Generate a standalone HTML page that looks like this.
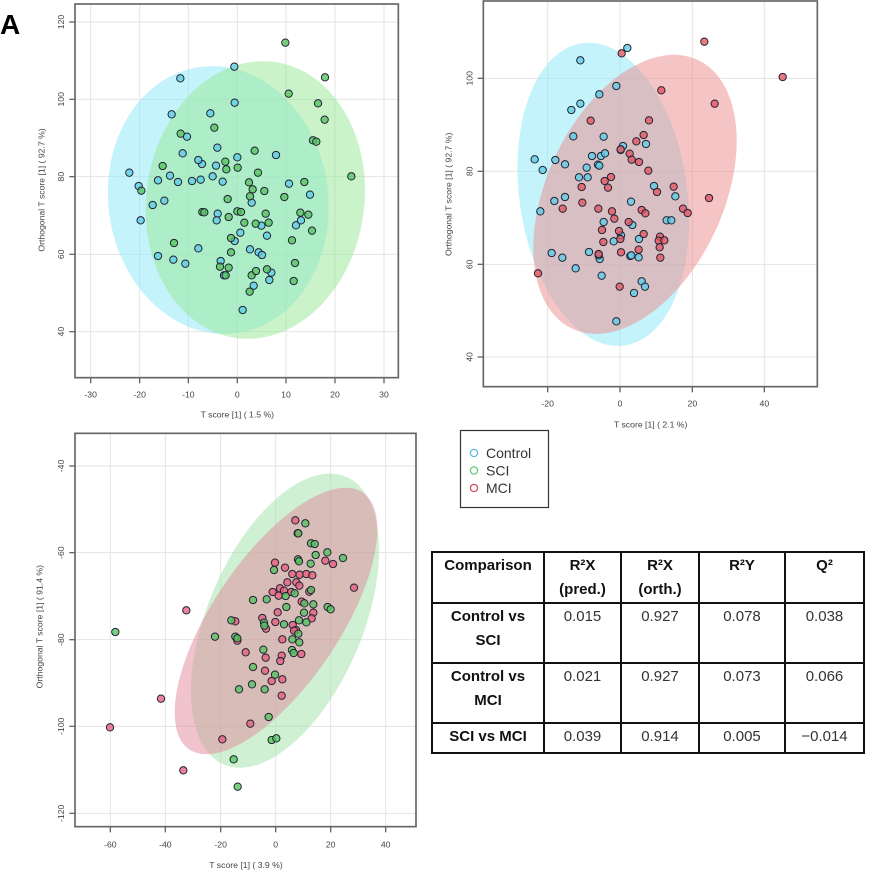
<!DOCTYPE html>
<html><head><meta charset="utf-8"><style>
html,body{margin:0;padding:0;background:#fff;width:875px;height:874px;overflow:hidden}
svg{position:absolute;left:0;top:0}
.t{font-family:"Liberation Sans",sans-serif;fill:#444;font-size:26px}
.pb circle{fill:rgba(95,205,230,0.8);stroke:#223;stroke-width:3}
.pg circle{fill:rgba(85,195,95,0.78);stroke:#223;stroke-width:3}
.pr circle{fill:rgba(225,85,95,0.78);stroke:#223;stroke-width:3}
.pm circle{fill:rgba(228,95,125,0.78);stroke:#223;stroke-width:3}
table{position:absolute;left:431px;top:551px;width:434px;border-collapse:collapse;table-layout:fixed;font-family:"Liberation Sans",sans-serif;font-size:15px;color:#333}
td{border:2px solid #111;text-align:center;vertical-align:top;padding:1px 2px 0 2px;line-height:24px;box-sizing:border-box}
.b{font-weight:bold;color:#111}
</style></head><body>
<svg width="875" height="874" viewBox="0 0 875 874">
<text x="0" y="34" font-family="Liberation Sans" font-weight="bold" font-size="28" fill="#000">A</text>

<!-- Plot 1 -->
<g transform="scale(0.33333)">
<g stroke="#e4e4e4" stroke-width="3">
<line x1="272" y1="12" x2="272" y2="1133"/><line x1="419" y1="12" x2="419" y2="1133"/><line x1="565" y1="12" x2="565" y2="1133"/><line x1="712" y1="12" x2="712" y2="1133"/><line x1="858" y1="12" x2="858" y2="1133"/><line x1="1005" y1="12" x2="1005" y2="1133"/><line x1="1152" y1="12" x2="1152" y2="1133"/>
<line x1="225" y1="66" x2="1195" y2="66"/><line x1="225" y1="298" x2="1195" y2="298"/><line x1="225" y1="530" x2="1195" y2="530"/><line x1="225" y1="763" x2="1195" y2="763"/><line x1="225" y1="995" x2="1195" y2="995"/>
</g>
<ellipse cx="655" cy="600" rx="330" ry="403" transform="rotate(-8 655 600)" fill="rgb(140,232,247)" fill-opacity="0.5"/>
<ellipse cx="766" cy="600" rx="327" ry="418" transform="rotate(8 766 600)" fill="rgb(150,232,150)" fill-opacity="0.5"/>
<g class="pb">
<circle cx="703" cy="200" r="11"/><circle cx="541" cy="235" r="11"/><circle cx="704" cy="308" r="11"/><circle cx="515" cy="343" r="11"/><circle cx="631" cy="340" r="11"/><circle cx="561" cy="410" r="11"/><circle cx="652" cy="443" r="11"/><circle cx="548" cy="460" r="11"/><circle cx="712" cy="472" r="11"/><circle cx="828" cy="465" r="11"/><circle cx="388" cy="518" r="11"/><circle cx="416" cy="558" r="11"/><circle cx="474" cy="541" r="11"/><circle cx="510" cy="527" r="11"/><circle cx="534" cy="546" r="11"/><circle cx="576" cy="543" r="11"/><circle cx="602" cy="539" r="11"/><circle cx="606" cy="492" r="11"/><circle cx="595" cy="480" r="11"/><circle cx="638" cy="529" r="11"/><circle cx="648" cy="497" r="11"/><circle cx="668" cy="545" r="11"/><circle cx="458" cy="615" r="11"/><circle cx="493" cy="602" r="11"/><circle cx="422" cy="661" r="11"/><circle cx="653" cy="641" r="11"/><circle cx="650" cy="661" r="11"/><circle cx="755" cy="608" r="11"/><circle cx="721" cy="698" r="11"/><circle cx="704" cy="723" r="11"/><circle cx="750" cy="748" r="11"/><circle cx="784" cy="677" r="11"/><circle cx="801" cy="707" r="11"/><circle cx="776" cy="757" r="11"/><circle cx="786" cy="765" r="11"/><circle cx="867" cy="551" r="11"/><circle cx="930" cy="584" r="11"/><circle cx="888" cy="676" r="11"/><circle cx="903" cy="661" r="11"/><circle cx="595" cy="745" r="11"/><circle cx="474" cy="768" r="11"/><circle cx="520" cy="779" r="11"/><circle cx="556" cy="791" r="11"/><circle cx="662" cy="783" r="11"/><circle cx="761" cy="857" r="11"/><circle cx="814" cy="818" r="11"/><circle cx="808" cy="840" r="11"/><circle cx="728" cy="930" r="11"/><circle cx="672" cy="826" r="11"/>
</g>
<g class="pg">
<circle cx="856" cy="128" r="11"/><circle cx="975" cy="232" r="11"/><circle cx="866" cy="281" r="11"/><circle cx="954" cy="310" r="11"/><circle cx="974" cy="359" r="11"/><circle cx="643" cy="383" r="11"/><circle cx="542" cy="401" r="11"/><circle cx="939" cy="421" r="11"/><circle cx="949" cy="425" r="11"/><circle cx="764" cy="452" r="11"/><circle cx="488" cy="498" r="11"/><circle cx="676" cy="485" r="11"/><circle cx="679" cy="508" r="11"/><circle cx="713" cy="503" r="11"/><circle cx="774" cy="518" r="11"/><circle cx="424" cy="572" r="11"/><circle cx="747" cy="547" r="11"/><circle cx="758" cy="568" r="11"/><circle cx="750" cy="589" r="11"/><circle cx="793" cy="573" r="11"/><circle cx="853" cy="591" r="11"/><circle cx="913" cy="546" r="11"/><circle cx="1054" cy="529" r="11"/><circle cx="683" cy="597" r="11"/><circle cx="607" cy="636" r="11"/><circle cx="613" cy="637" r="11"/><circle cx="686" cy="651" r="11"/><circle cx="712" cy="634" r="11"/><circle cx="723" cy="636" r="11"/><circle cx="733" cy="668" r="11"/><circle cx="767" cy="671" r="11"/><circle cx="797" cy="641" r="11"/><circle cx="806" cy="668" r="11"/><circle cx="901" cy="638" r="11"/><circle cx="925" cy="644" r="11"/><circle cx="936" cy="692" r="11"/><circle cx="693" cy="714" r="11"/><circle cx="693" cy="757" r="11"/><circle cx="876" cy="721" r="11"/><circle cx="522" cy="729" r="11"/><circle cx="660" cy="800" r="11"/><circle cx="686" cy="803" r="11"/><circle cx="677" cy="826" r="11"/><circle cx="755" cy="826" r="11"/><circle cx="768" cy="813" r="11"/><circle cx="801" cy="808" r="11"/><circle cx="885" cy="789" r="11"/><circle cx="881" cy="843" r="11"/><circle cx="749" cy="875" r="11"/>
</g>
<rect x="225" y="12" width="970" height="1121" fill="none" stroke="#666" stroke-width="5"/>
<g stroke="#666" stroke-width="4">
<line x1="272" y1="1133" x2="272" y2="1150"/><line x1="419" y1="1133" x2="419" y2="1150"/><line x1="565" y1="1133" x2="565" y2="1150"/><line x1="712" y1="1133" x2="712" y2="1150"/><line x1="858" y1="1133" x2="858" y2="1150"/><line x1="1005" y1="1133" x2="1005" y2="1150"/><line x1="1152" y1="1133" x2="1152" y2="1150"/>
<line x1="208" y1="66" x2="225" y2="66"/><line x1="208" y1="298" x2="225" y2="298"/><line x1="208" y1="530" x2="225" y2="530"/><line x1="208" y1="763" x2="225" y2="763"/><line x1="208" y1="995" x2="225" y2="995"/>
</g>
<g class="t" text-anchor="middle">
<text x="272" y="1193">-30</text><text x="419" y="1193">-20</text><text x="565" y="1193">-10</text><text x="712" y="1193">0</text><text x="858" y="1193">10</text><text x="1005" y="1193">20</text><text x="1152" y="1193">30</text>
<text x="712" y="1253">T score [1] ( 1.5 %)</text>
<text transform="translate(192 66) rotate(-90)">120</text><text transform="translate(192 298) rotate(-90)">100</text><text transform="translate(192 530) rotate(-90)">80</text><text transform="translate(192 763) rotate(-90)">60</text><text transform="translate(192 995) rotate(-90)">40</text>
<text transform="translate(133 570) rotate(-90)">Orthogonal T score [1] ( 92.7 %)</text>
</g>
</g>

<!-- Plot 2 -->
<g transform="translate(430 0) scale(0.33333)">
<g stroke="#e4e4e4" stroke-width="3">
<line x1="353" y1="3" x2="353" y2="1160"/><line x1="570" y1="3" x2="570" y2="1160"/><line x1="787" y1="3" x2="787" y2="1160"/><line x1="1003" y1="3" x2="1003" y2="1160"/>
<line x1="160" y1="235" x2="1162" y2="235"/><line x1="160" y1="514" x2="1162" y2="514"/><line x1="160" y1="793" x2="1162" y2="793"/><line x1="160" y1="1071" x2="1162" y2="1071"/>
</g>
<ellipse cx="520" cy="583" rx="252" ry="458" transform="rotate(-8 520 583)" fill="rgb(140,232,247)" fill-opacity="0.5"/>
<ellipse cx="615" cy="583" rx="265" ry="445" transform="rotate(25 615 583)" fill="rgb(235,140,140)" fill-opacity="0.5"/>
<g class="pb">
<circle cx="592" cy="144" r="11"/><circle cx="451" cy="181" r="11"/><circle cx="559" cy="258" r="11"/><circle cx="508" cy="283" r="11"/><circle cx="451" cy="311" r="11"/><circle cx="424" cy="330" r="11"/><circle cx="430" cy="409" r="11"/><circle cx="521" cy="410" r="11"/><circle cx="648" cy="432" r="11"/><circle cx="579" cy="438" r="11"/><circle cx="572" cy="450" r="11"/><circle cx="314" cy="478" r="11"/><circle cx="376" cy="480" r="11"/><circle cx="405" cy="493" r="11"/><circle cx="338" cy="510" r="11"/><circle cx="486" cy="468" r="11"/><circle cx="513" cy="468" r="11"/><circle cx="525" cy="460" r="11"/><circle cx="470" cy="503" r="11"/><circle cx="504" cy="494" r="11"/><circle cx="508" cy="497" r="11"/><circle cx="447" cy="532" r="11"/><circle cx="473" cy="532" r="11"/><circle cx="672" cy="558" r="11"/><circle cx="736" cy="589" r="11"/><circle cx="373" cy="603" r="11"/><circle cx="405" cy="591" r="11"/><circle cx="603" cy="605" r="11"/><circle cx="331" cy="634" r="11"/><circle cx="521" cy="666" r="11"/><circle cx="607" cy="675" r="11"/><circle cx="710" cy="661" r="11"/><circle cx="724" cy="661" r="11"/><circle cx="365" cy="759" r="11"/><circle cx="397" cy="773" r="11"/><circle cx="477" cy="756" r="11"/><circle cx="509" cy="777" r="11"/><circle cx="551" cy="724" r="11"/><circle cx="573" cy="706" r="11"/><circle cx="627" cy="717" r="11"/><circle cx="601" cy="768" r="11"/><circle cx="604" cy="766" r="11"/><circle cx="626" cy="772" r="11"/><circle cx="437" cy="805" r="11"/><circle cx="515" cy="827" r="11"/><circle cx="635" cy="844" r="11"/><circle cx="645" cy="860" r="11"/><circle cx="612" cy="879" r="11"/><circle cx="559" cy="964" r="11"/><circle cx="506" cy="766" r="11"/>
</g>
<g class="pr">
<circle cx="823" cy="125" r="11"/><circle cx="575" cy="160" r="11"/><circle cx="694" cy="271" r="11"/><circle cx="854" cy="311" r="11"/><circle cx="482" cy="362" r="11"/><circle cx="657" cy="361" r="11"/><circle cx="641" cy="405" r="11"/><circle cx="619" cy="424" r="11"/><circle cx="572" cy="448" r="11"/><circle cx="599" cy="461" r="11"/><circle cx="605" cy="479" r="11"/><circle cx="627" cy="486" r="11"/><circle cx="655" cy="512" r="11"/><circle cx="543" cy="531" r="11"/><circle cx="524" cy="543" r="11"/><circle cx="534" cy="563" r="11"/><circle cx="455" cy="561" r="11"/><circle cx="457" cy="608" r="11"/><circle cx="398" cy="626" r="11"/><circle cx="731" cy="560" r="11"/><circle cx="681" cy="576" r="11"/><circle cx="837" cy="594" r="11"/><circle cx="759" cy="626" r="11"/><circle cx="773" cy="639" r="11"/><circle cx="505" cy="626" r="11"/><circle cx="546" cy="634" r="11"/><circle cx="553" cy="656" r="11"/><circle cx="635" cy="630" r="11"/><circle cx="646" cy="640" r="11"/><circle cx="596" cy="666" r="11"/><circle cx="516" cy="690" r="11"/><circle cx="567" cy="693" r="11"/><circle cx="571" cy="717" r="11"/><circle cx="641" cy="702" r="11"/><circle cx="690" cy="710" r="11"/><circle cx="686" cy="722" r="11"/><circle cx="703" cy="721" r="11"/><circle cx="689" cy="742" r="11"/><circle cx="691" cy="773" r="11"/><circle cx="626" cy="749" r="11"/><circle cx="520" cy="726" r="11"/><circle cx="506" cy="762" r="11"/><circle cx="573" cy="757" r="11"/><circle cx="324" cy="820" r="11"/><circle cx="569" cy="860" r="11"/><circle cx="1058" cy="231" r="11"/>
</g>
<rect x="160" y="3" width="1002" height="1157" fill="none" stroke="#666" stroke-width="5"/>
<g stroke="#666" stroke-width="4">
<line x1="353" y1="1160" x2="353" y2="1177"/><line x1="570" y1="1160" x2="570" y2="1177"/><line x1="787" y1="1160" x2="787" y2="1177"/><line x1="1003" y1="1160" x2="1003" y2="1177"/>
<line x1="143" y1="235" x2="160" y2="235"/><line x1="143" y1="514" x2="160" y2="514"/><line x1="143" y1="793" x2="160" y2="793"/><line x1="143" y1="1071" x2="160" y2="1071"/>
</g>
<g class="t" text-anchor="middle">
<text x="353" y="1220">-20</text><text x="570" y="1220">0</text><text x="787" y="1220">20</text><text x="1003" y="1220">40</text>
<text x="662" y="1283">T score [1] ( 2.1 %)</text>
<text transform="translate(127 235) rotate(-90)">100</text><text transform="translate(127 514) rotate(-90)">80</text><text transform="translate(127 793) rotate(-90)">60</text><text transform="translate(127 1071) rotate(-90)">40</text>
<text transform="translate(64 583) rotate(-90)">Orthogonal T score [1] ( 92.7 %)</text>
</g>
</g>

<!-- Plot 3 -->
<g transform="translate(0 420) scale(0.33333)">
<g stroke="#e4e4e4" stroke-width="3">
<line x1="331" y1="40" x2="331" y2="1220"/><line x1="496" y1="40" x2="496" y2="1220"/><line x1="662" y1="40" x2="662" y2="1220"/><line x1="827" y1="40" x2="827" y2="1220"/><line x1="992" y1="40" x2="992" y2="1220"/><line x1="1157" y1="40" x2="1157" y2="1220"/>
<line x1="225" y1="138" x2="1248" y2="138"/><line x1="225" y1="398" x2="1248" y2="398"/><line x1="225" y1="659" x2="1248" y2="659"/><line x1="225" y1="919" x2="1248" y2="919"/><line x1="225" y1="1180" x2="1248" y2="1180"/>
</g>
<ellipse cx="855" cy="602" rx="233" ry="469" transform="rotate(23 855 602)" fill="rgb(160,225,165)" fill-opacity="0.5"/>
<ellipse cx="828" cy="603" rx="190" ry="465" transform="rotate(34 828 603)" fill="rgb(225,135,155)" fill-opacity="0.5"/>
<g class="pm">
<circle cx="886" cy="301" r="11"/><circle cx="893" cy="340" r="11"/><circle cx="825" cy="428" r="11"/><circle cx="855" cy="443" r="11"/><circle cx="877" cy="462" r="11"/><circle cx="899" cy="464" r="11"/><circle cx="919" cy="462" r="11"/><circle cx="937" cy="466" r="11"/><circle cx="862" cy="487" r="11"/><circle cx="889" cy="487" r="11"/><circle cx="898" cy="497" r="11"/><circle cx="840" cy="505" r="11"/><circle cx="818" cy="516" r="11"/><circle cx="852" cy="512" r="11"/><circle cx="874" cy="516" r="11"/><circle cx="928" cy="515" r="11"/><circle cx="836" cy="527" r="11"/><circle cx="905" cy="545" r="11"/><circle cx="976" cy="422" r="11"/><circle cx="999" cy="432" r="11"/><circle cx="1062" cy="503" r="11"/><circle cx="559" cy="571" r="11"/><circle cx="706" cy="604" r="11"/><circle cx="787" cy="594" r="11"/><circle cx="798" cy="626" r="11"/><circle cx="826" cy="606" r="11"/><circle cx="878" cy="615" r="11"/><circle cx="888" cy="630" r="11"/><circle cx="940" cy="578" r="11"/><circle cx="935" cy="595" r="11"/><circle cx="712" cy="662" r="11"/><circle cx="847" cy="658" r="11"/><circle cx="737" cy="697" r="11"/><circle cx="797" cy="713" r="11"/><circle cx="845" cy="707" r="11"/><circle cx="841" cy="723" r="11"/><circle cx="904" cy="702" r="11"/><circle cx="795" cy="752" r="11"/><circle cx="815" cy="783" r="11"/><circle cx="847" cy="778" r="11"/><circle cx="845" cy="827" r="11"/><circle cx="483" cy="836" r="11"/><circle cx="751" cy="911" r="11"/><circle cx="330" cy="922" r="11"/><circle cx="667" cy="958" r="11"/><circle cx="550" cy="1051" r="11"/><circle cx="833" cy="577" r="11"/><circle cx="882" cy="632" r="11"/>
</g>
<g class="pg">
<circle cx="916" cy="310" r="11"/><circle cx="895" cy="340" r="11"/><circle cx="933" cy="370" r="11"/><circle cx="944" cy="372" r="11"/><circle cx="947" cy="405" r="11"/><circle cx="982" cy="397" r="11"/><circle cx="1029" cy="414" r="11"/><circle cx="894" cy="418" r="11"/><circle cx="897" cy="424" r="11"/><circle cx="932" cy="431" r="11"/><circle cx="822" cy="450" r="11"/><circle cx="884" cy="520" r="11"/><circle cx="933" cy="510" r="11"/><circle cx="857" cy="528" r="11"/><circle cx="759" cy="540" r="11"/><circle cx="800" cy="538" r="11"/><circle cx="940" cy="553" r="11"/><circle cx="913" cy="550" r="11"/><circle cx="859" cy="561" r="11"/><circle cx="983" cy="561" r="11"/><circle cx="992" cy="568" r="11"/><circle cx="912" cy="578" r="11"/><circle cx="897" cy="601" r="11"/><circle cx="919" cy="607" r="11"/><circle cx="852" cy="613" r="11"/><circle cx="792" cy="608" r="11"/><circle cx="793" cy="617" r="11"/><circle cx="694" cy="601" r="11"/><circle cx="346" cy="636" r="11"/><circle cx="645" cy="650" r="11"/><circle cx="706" cy="650" r="11"/><circle cx="712" cy="655" r="11"/><circle cx="877" cy="658" r="11"/><circle cx="895" cy="641" r="11"/><circle cx="898" cy="667" r="11"/><circle cx="790" cy="689" r="11"/><circle cx="876" cy="690" r="11"/><circle cx="881" cy="699" r="11"/><circle cx="759" cy="741" r="11"/><circle cx="756" cy="793" r="11"/><circle cx="717" cy="808" r="11"/><circle cx="794" cy="808" r="11"/><circle cx="825" cy="764" r="11"/><circle cx="806" cy="891" r="11"/><circle cx="815" cy="960" r="11"/><circle cx="829" cy="955" r="11"/><circle cx="701" cy="1018" r="11"/><circle cx="713" cy="1100" r="11"/>
</g>
<rect x="225" y="40" width="1023" height="1180" fill="none" stroke="#666" stroke-width="5"/>
<g stroke="#666" stroke-width="4">
<line x1="331" y1="1220" x2="331" y2="1237"/><line x1="496" y1="1220" x2="496" y2="1237"/><line x1="662" y1="1220" x2="662" y2="1237"/><line x1="827" y1="1220" x2="827" y2="1237"/><line x1="992" y1="1220" x2="992" y2="1237"/><line x1="1157" y1="1220" x2="1157" y2="1237"/>
<line x1="208" y1="138" x2="225" y2="138"/><line x1="208" y1="398" x2="225" y2="398"/><line x1="208" y1="659" x2="225" y2="659"/><line x1="208" y1="919" x2="225" y2="919"/><line x1="208" y1="1180" x2="225" y2="1180"/>
</g>
<g class="t" text-anchor="middle">
<text x="331" y="1283">-60</text><text x="496" y="1283">-40</text><text x="662" y="1283">-20</text><text x="827" y="1283">0</text><text x="992" y="1283">20</text><text x="1157" y="1283">40</text>
<text x="738" y="1344">T score [1] ( 3.9 %)</text>
<text transform="translate(192 138) rotate(-90)">-40</text><text transform="translate(192 398) rotate(-90)">-60</text><text transform="translate(192 659) rotate(-90)">-80</text><text transform="translate(192 919) rotate(-90)">-100</text><text transform="translate(192 1180) rotate(-90)">-120</text>
<text transform="translate(127 620) rotate(-90)">Orthogonal T score [1] ( 91.4 %)</text>
</g>
</g>

<!-- Legend -->
<rect x="460.5" y="430.5" width="88" height="77" fill="#fff" stroke="#333" stroke-width="1.2"/>
<circle cx="474" cy="453" r="3.6" fill="none" stroke="#5bbce0" stroke-width="1.3"/>
<circle cx="474" cy="470.5" r="3.6" fill="none" stroke="#5fcf7a" stroke-width="1.3"/>
<circle cx="474" cy="488" r="3.6" fill="none" stroke="#d0505e" stroke-width="1.3"/>
<g font-family="Liberation Sans" font-size="14" fill="#333">
<text x="486" y="458">Control</text><text x="486" y="475.5">SCI</text><text x="486" y="493">MCI</text>
</g>
</svg>

<table>
<tr><td class="b" style="width:112px;height:51px">Comparison</td><td class="b" style="width:77px">R²X<br>(pred.)</td><td class="b" style="width:78px">R²X<br>(orth.)</td><td class="b" style="width:86px">R²Y</td><td class="b">Q²</td></tr>
<tr><td class="b" style="height:60px">Control vs<br>SCI</td><td>0.015</td><td>0.927</td><td>0.078</td><td>0.038</td></tr>
<tr><td class="b" style="height:60px">Control vs<br>MCI</td><td>0.021</td><td>0.927</td><td>0.073</td><td>0.066</td></tr>
<tr><td class="b" style="height:30px">SCI vs MCI</td><td>0.039</td><td>0.914</td><td>0.005</td><td>−0.014</td></tr>
</table>
</body></html>
